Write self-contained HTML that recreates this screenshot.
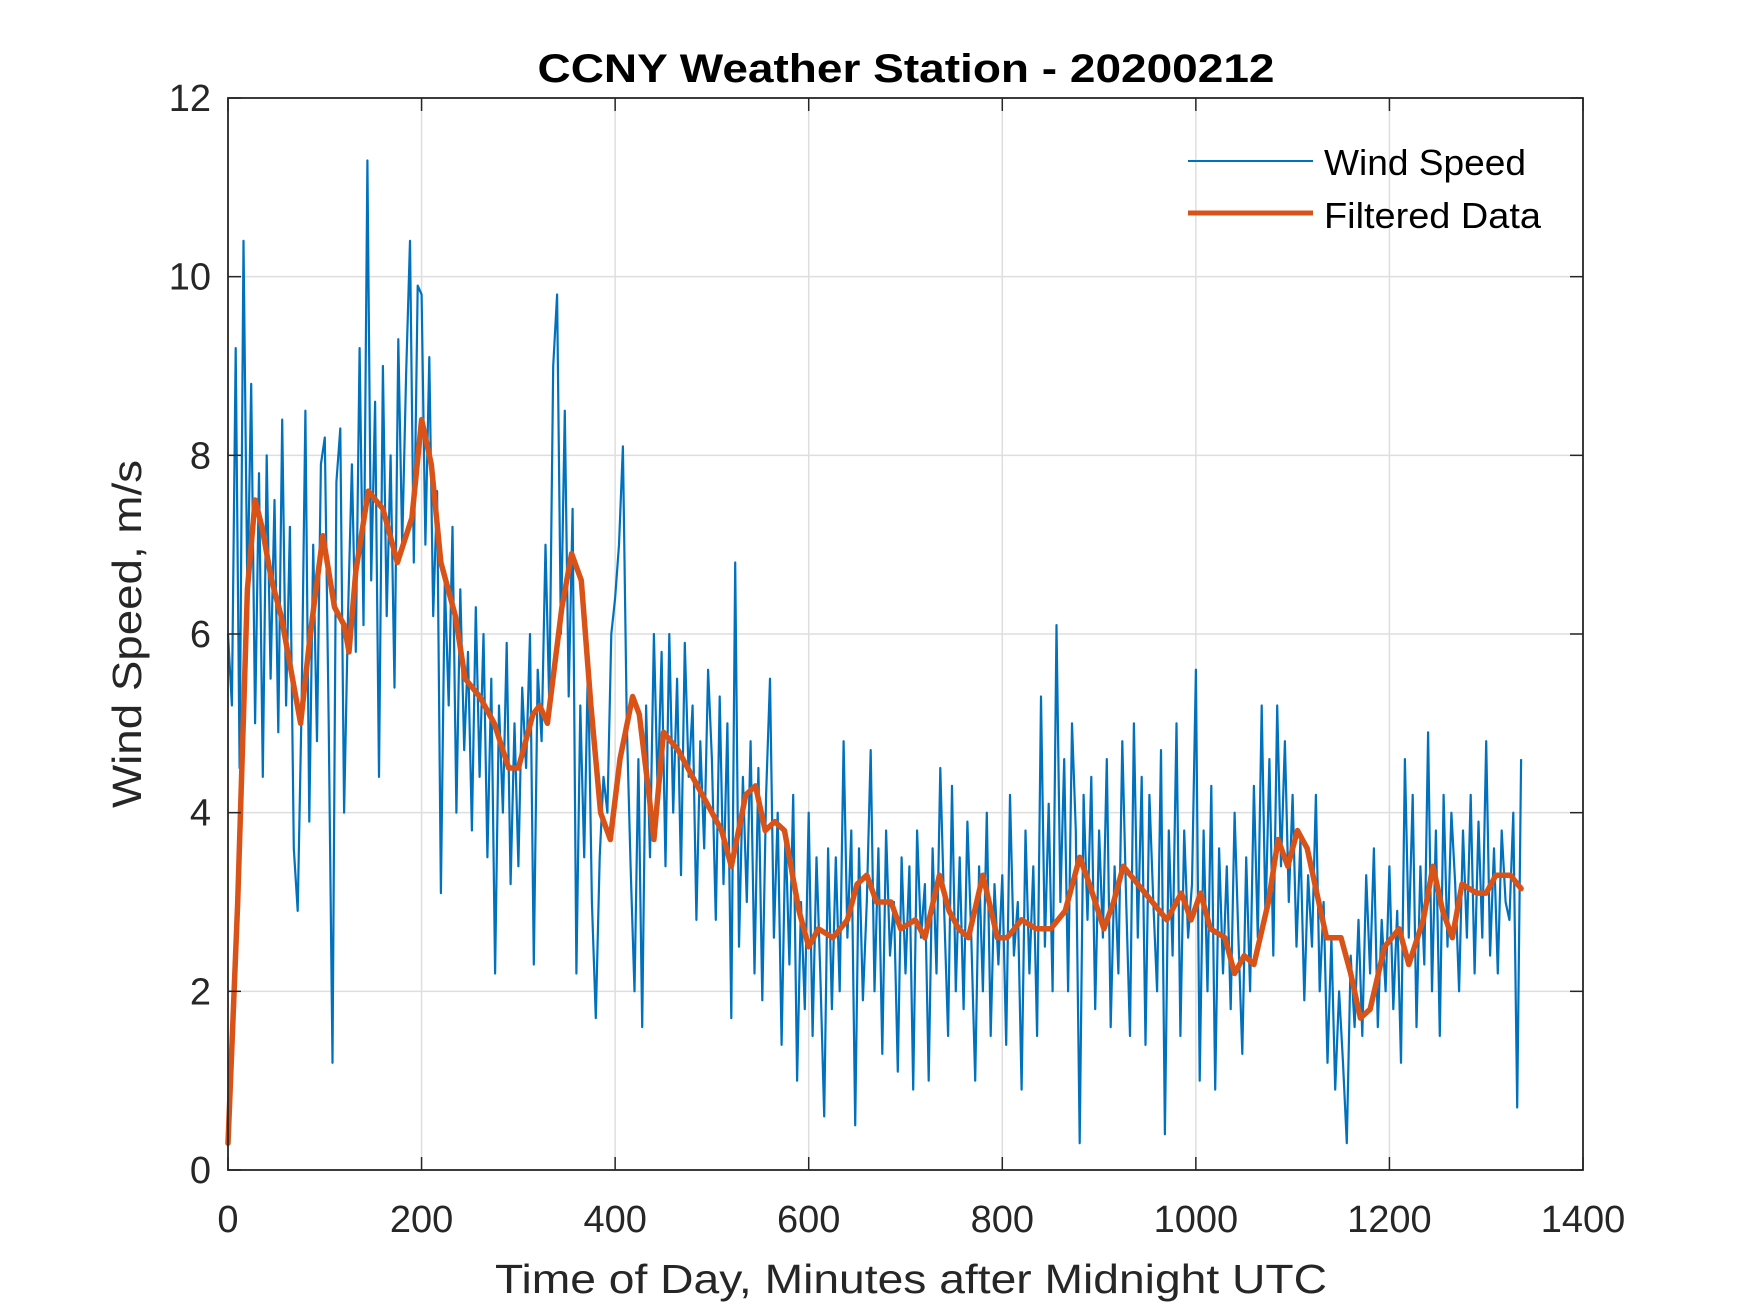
<!DOCTYPE html>
<html><head><meta charset="utf-8"><style>
html,body{margin:0;padding:0;background:#fff;}
svg{display:block;font-family:"Liberation Sans",Arial,sans-serif;}
</style></head><body>
<svg id="chart" width="1750" height="1313" viewBox="0 0 1750 1313">
<rect width="1750" height="1313" fill="#fff"/>
<g id="grid"></g>
<g id="series"></g>
<g id="axes"></g>
<text x="906" y="82" text-anchor="middle" font-size="40" font-weight="bold" textLength="737" lengthAdjust="spacingAndGlyphs" fill="#000">CCNY Weather Station - 20200212</text>
<text x="911" y="1293" text-anchor="middle" font-size="41" textLength="832" lengthAdjust="spacingAndGlyphs" fill="#262626">Time of Day, Minutes after Midnight UTC</text>
<text transform="translate(141,634) rotate(-90)" text-anchor="middle" font-size="41" textLength="348" lengthAdjust="spacingAndGlyphs" fill="#262626">Wind Speed, m/s</text>
<g>
<line x1="1188" y1="161" x2="1313" y2="161" stroke="#0072BD" stroke-width="2"/>
<text x="1324" y="175" font-size="36" textLength="202" lengthAdjust="spacingAndGlyphs" fill="#000">Wind Speed</text>
<line x1="1188" y1="213" x2="1313" y2="213" stroke="#D95319" stroke-width="5"/>
<text x="1324" y="228" font-size="36" textLength="217" lengthAdjust="spacingAndGlyphs" fill="#000">Filtered Data</text>
</g>
</svg>
<script>
const xTicks = [0,200,400,600,800,1000,1200,1400];
const yTicks = [0,2,4,6,8,10,12];
const windStep = 4;
const windSpeed = [
6.0,5.2,9.2,4.5,10.4,6.4,8.8,5.0,7.8,4.4,8.0,5.5,7.5,4.9,8.4,5.2,7.2,3.6,2.9,5.2,8.5,3.9,7.0,4.8,7.9,
8.2,5.0,1.2,7.7,8.3,4.0,6.2,7.9,5.8,9.2,6.1,11.3,6.6,8.6,4.4,9.0,6.2,8.0,5.4,9.3,7.0,8.9,10.4,6.8,9.9,
9.8,7.0,9.1,6.2,7.6,3.1,6.6,5.2,7.2,4.0,6.5,4.7,5.8,3.8,6.3,4.4,6.0,3.5,5.5,2.2,5.2,4.0,5.9,3.2,5.0,
3.4,5.4,4.5,6.0,2.3,5.6,4.8,7.0,5.2,9.0,9.8,6.0,8.5,5.3,7.4,2.2,5.2,3.5,5.7,3.0,1.7,3.5,4.4,4.0,6.0,
6.4,7.0,8.1,5.0,3.4,2.0,4.6,1.6,5.2,3.5,6.0,4.2,5.8,3.4,6.0,4.0,5.5,3.3,5.9,4.4,5.2,2.8,4.8,3.6,5.6,
4.6,2.8,5.3,3.2,5.0,1.7,6.8,2.5,4.4,3.0,4.8,2.2,4.5,1.9,4.2,5.5,2.6,4.0,1.4,3.8,2.3,4.2,1.0,3.0,1.8,
4.0,1.5,3.5,2.2,0.6,3.6,1.8,3.5,2.0,4.8,2.6,3.8,0.5,3.6,1.9,3.0,4.7,2.0,3.6,1.3,3.8,2.4,3.0,1.1,3.5,
2.2,3.4,0.9,3.8,2.6,3.2,1.0,3.6,2.2,4.5,2.9,1.5,4.3,2.0,3.5,1.8,3.9,2.6,1.0,3.4,2.0,4.0,1.5,3.2,2.3,
3.3,1.4,4.2,2.4,3.0,0.9,3.8,2.2,3.4,1.5,5.3,2.5,4.1,2.0,6.1,3.0,4.6,2.0,5.0,3.8,0.3,4.2,2.8,4.4,1.8,
3.8,2.6,4.6,1.6,3.4,2.2,4.8,3.0,1.5,5.0,2.6,4.4,1.4,4.2,3.0,2.0,4.7,0.4,3.8,2.4,5.0,1.5,3.8,2.6,3.2,
5.6,1.0,3.8,2.0,4.3,0.9,3.6,2.2,3.4,1.8,4.0,2.6,1.3,3.5,2.0,4.3,2.6,5.2,2.8,4.6,2.4,5.2,3.4,4.8,3.0,
4.2,2.5,3.7,1.9,3.3,2.5,4.2,2.0,3.0,1.2,2.6,0.9,2.0,1.2,0.3,2.4,1.6,2.8,1.5,3.3,2.2,3.6,1.6,2.8,2.0,
3.4,1.8,2.9,1.2,4.6,2.6,4.2,1.6,3.4,2.3,4.9,2.0,3.8,1.5,4.2,2.5,4.0,3.2,2.0,3.8,2.6,4.2,2.2,3.9,2.6,
4.8,2.4,3.6,2.2,3.8,3.0,2.8,4.0,0.7,4.6
];
const filteredX = [0,10,20,28,35,45,55,65,75,85,98,110,120,125,132,145,160,175,190,200,210,220,235,245,260,275,290,300,315,322,330,345,355,365,375,385,395,405,418,425,435,440,450,465,480,495,510,520,535,545,555,565,575,590,600,610,625,640,650,660,670,685,695,710,720,735,745,755,765,780,795,805,820,835,850,865,880,890,905,915,925,940,955,970,985,995,1005,1015,1030,1040,1050,1060,1075,1085,1095,1105,1115,1125,1135,1150,1160,1170,1180,1195,1210,1220,1235,1245,1255,1265,1275,1290,1300,1310,1325,1336];
const filteredY = [0.3,3,6.5,7.5,7.2,6.6,6.2,5.6,5.0,6,7.1,6.3,6.1,5.8,6.7,7.6,7.4,6.8,7.3,8.4,7.9,6.8,6.2,5.5,5.3,5.0,4.5,4.5,5.1,5.2,5.0,6.3,6.9,6.6,5.2,4.0,3.7,4.6,5.3,5.1,4.2,3.7,4.9,4.7,4.4,4.1,3.8,3.4,4.2,4.3,3.8,3.9,3.8,2.9,2.5,2.7,2.6,2.8,3.2,3.3,3.0,3.0,2.7,2.8,2.6,3.3,2.9,2.7,2.6,3.3,2.6,2.6,2.8,2.7,2.7,2.9,3.5,3.2,2.7,3.0,3.4,3.2,3.0,2.8,3.1,2.8,3.1,2.7,2.6,2.2,2.4,2.3,3.0,3.7,3.4,3.8,3.6,3.1,2.6,2.6,2.2,1.7,1.8,2.5,2.7,2.3,2.8,3.4,2.9,2.6,3.2,3.1,3.1,3.3,3.3,3.15];

const L=228,R=1583,T=98,B=1170,XMAX=1400,YMAX=12;
const NS='http://www.w3.org/2000/svg';
function sx(v){return L+(v/XMAX)*(R-L);}
function sy(v){return B-(v/YMAX)*(B-T);}
function mk(tag,attrs,parent){const e=document.createElementNS(NS,tag);for(const k in attrs)e.setAttribute(k,attrs[k]);parent.appendChild(e);return e;}
const grid=document.getElementById('grid'),series=document.getElementById('series'),axes=document.getElementById('axes');

xTicks.forEach(t=>{
  if(t>0&&t<XMAX){const g=mk('line',{x1:sx(t),x2:sx(t),y1:T,y2:B,stroke:'#dedede','stroke-width':1.5},grid);
  
  }
  const a=mk('line',{x1:sx(t),x2:sx(t),y1:B,y2:B-13,stroke:'#262626','stroke-width':1.5},axes);
  
  
  const b=mk('line',{x1:sx(t),x2:sx(t),y1:T,y2:T+13,stroke:'#262626','stroke-width':1.5},axes);
  
  
  const tx=mk('text',{x:sx(t),y:1232,'text-anchor':'middle','font-size':38,fill:'#262626'},axes);
  tx.textContent=t;
  
  
});
yTicks.forEach(t=>{
  if(t>0&&t<YMAX){const g=mk('line',{x1:L,x2:R,y1:sy(t),y2:sy(t),stroke:'#dedede','stroke-width':1.5},grid);
  
  }
  const a=mk('line',{x1:L,x2:L+13,y1:sy(t),y2:sy(t),stroke:'#262626','stroke-width':1.5},axes);
  
  
  const b=mk('line',{x1:R,x2:R-13,y1:sy(t),y2:sy(t),stroke:'#262626','stroke-width':1.5},axes);
  
  
  const tx=mk('text',{x:211,y:sy(t)+13,'text-anchor':'end','font-size':38,fill:'#262626'},axes);
  tx.textContent=t;
  
  
});
const box=mk('rect',{x:L,y:T,width:R-L,height:B-T,fill:'none',stroke:'#262626','stroke-width':1.8},axes);



const wp=windSpeed.map((v,i)=>sx(i*windStep).toFixed(1)+','+sy(v).toFixed(1)).join(' ');
const w=mk('polyline',{points:wp,fill:'none',stroke:'#0072BD','stroke-width':2.2,'stroke-linejoin':'round'},series);


const fp=filteredY.map((v,i)=>sx(filteredX[i]).toFixed(1)+','+sy(v).toFixed(1)).join(' ');
const f=mk('polyline',{points:fp,fill:'none',stroke:'#D95319','stroke-width':5.5,'stroke-linejoin':'round','stroke-linecap':'round'},series);


</script>
</body></html>
